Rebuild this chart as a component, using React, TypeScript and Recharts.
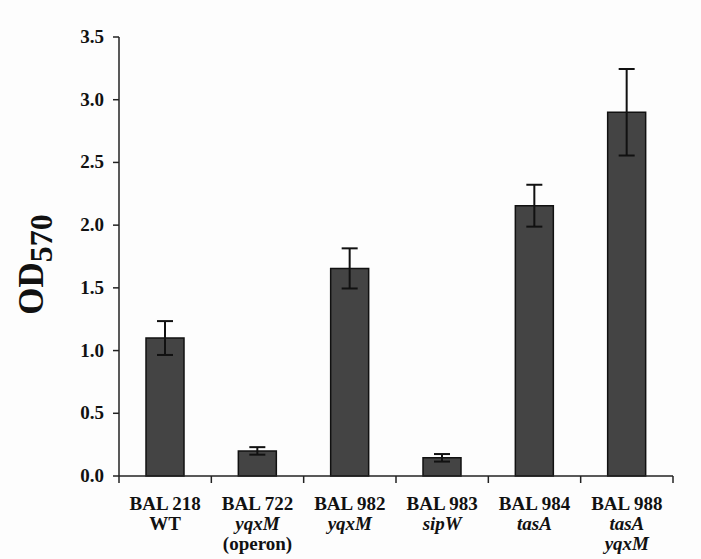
import { BarChart, Bar, XAxis, YAxis, ErrorBar, Label } from "recharts";

const strains = ["BAL 218", "BAL 722", "BAL 982", "BAL 983", "BAL 984", "BAL 988"];
const genotypes = [["WT"], ["yqxM", "(operon)"], ["yqxM"], ["sipW"], ["tasA"], ["tasA", "yqxM"]];
const od570 = [1.1, 0.2, 1.655, 0.145, 2.155, 2.9];
const od570Err = [0.135, 0.03, 0.16, 0.03, 0.167, 0.345];
const yTicks = [0, 0.5, 1.0, 1.5, 2.0, 2.5, 3.0, 3.5];

const data = strains.map((s, i) => ({ strain: s, od: od570[i], err: od570Err[i] }));

const SERIF = "'Liberation Serif', 'Times New Roman', 'DejaVu Serif', serif";
const INK = "#111";
const AXIS = "#222";
const serifBold = { fontFamily: SERIF, fontWeight: 700 } as const;

// genotype lines are italic except wild type / annotations in brackets
const isItalic = (s: string) => s !== "WT" && !s.startsWith("(");

function CategoryTick(props: any) {
  const { x, y, payload, width } = props;
  const i = strains.indexOf(payload.value);
  const half = payload.offset > 0 ? payload.offset : width / strains.length / 2;
  const lines = genotypes[i] || [];
  return (
    <g>
      {i === 0 && <line x1={x - half} x2={x - half} y1={y} y2={y + 7} stroke={AXIS} strokeWidth={1.5} />}
      <line x1={x + half} x2={x + half} y1={y} y2={y + 7} stroke={AXIS} strokeWidth={1.5} />
      <text x={x} y={y + 33.5} textAnchor="middle" style={{ ...serifBold, fontSize: 19 }} fill={INK}>
        <tspan x={x}>{payload.value}</tspan>
        {lines.map((l, k) => (
          <tspan key={k} x={x} dy={20} style={{ fontStyle: isItalic(l) ? "italic" : "normal" }}>
            {l}
          </tspan>
        ))}
      </text>
    </g>
  );
}

function ValueTick(props: any) {
  const { x, y, payload } = props;
  return (
    <text x={x} y={y} dy={6} textAnchor="end" style={{ ...serifBold, fontSize: 19 }} fill={INK}>
      {Number(payload.value).toFixed(1)}
    </text>
  );
}

function YTitle(props: any) {
  const { viewBox } = props;
  const cx = viewBox.x + 43;
  const cy = viewBox.y + viewBox.height / 2 + 8;
  return (
    <text
      x={cx}
      y={cy}
      transform={`rotate(-90, ${cx}, ${cy})`}
      textAnchor="middle"
      style={{ ...serifBold, fontSize: 35 }}
      fill={INK}
    >
      OD
      <tspan style={{ fontSize: 32 }} dy={9}>570</tspan>
    </text>
  );
}

export default function App() {
  return (
    <div style={{ position: "absolute", left: 0, top: 0, width: 701, height: 559, background: "#fdfdfd" }}>
      <BarChart width={701} height={559} data={data} margin={{ top: 37, right: 28, bottom: 0, left: 0 }}>
        <XAxis
          dataKey="strain"
          height={83}
          axisLine={{ stroke: AXIS, strokeWidth: 1.5 }}
          tickLine={false}
          tickSize={0}
          tickMargin={0}
          interval={0}
          tick={<CategoryTick />}
        />
        <YAxis
          width={119}
          domain={[0, 3.5]}
          ticks={yTicks}
          axisLine={{ stroke: AXIS, strokeWidth: 1.5 }}
          tickLine={{ stroke: AXIS, strokeWidth: 1.5 }}
          tickSize={6}
          tickMargin={9}
          tick={<ValueTick />}
        >
          <Label content={<YTitle />} />
        </YAxis>
        <Bar dataKey="od" barSize={38} fill="#444" stroke={INK} strokeWidth={1.5} isAnimationActive={false}>
          <ErrorBar dataKey="err" width={8} stroke={INK} strokeWidth={2} />
        </Bar>
      </BarChart>
    </div>
  );
}
